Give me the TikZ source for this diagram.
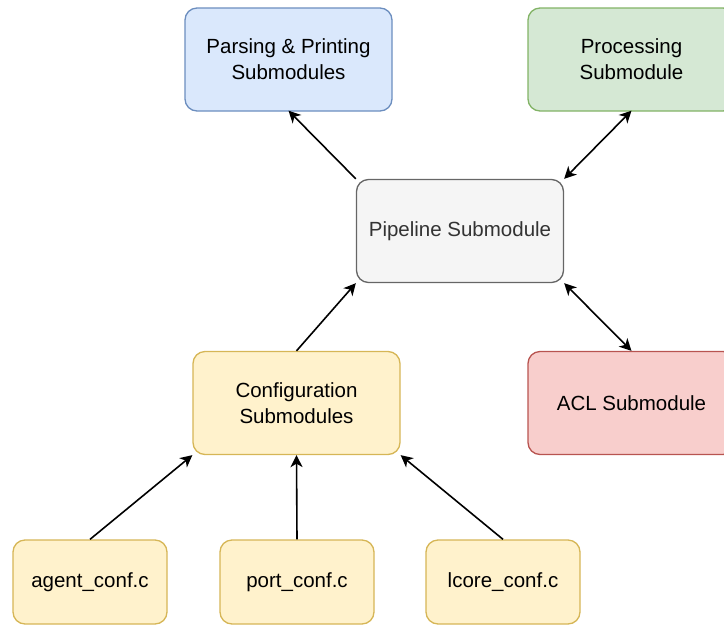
\documentclass[tikz,border=0pt]{standalone}
\usepackage{fontspec}
\setmainfont{Liberation Sans}
\usetikzlibrary{arrows.meta}

\definecolor{blueFill}{HTML}{DAE8FC}\definecolor{blueLine}{HTML}{6C8EBF}
\definecolor{greenFill}{HTML}{D5E8D4}\definecolor{greenLine}{HTML}{82B366}
\definecolor{grayFill}{HTML}{F5F5F5}\definecolor{grayLine}{HTML}{666666}
\definecolor{grayText}{HTML}{333333}
\definecolor{redFill}{HTML}{F8CECC}\definecolor{redLine}{HTML}{B85450}
\definecolor{yellowFill}{HTML}{FFF2CC}\definecolor{yellowLine}{HTML}{D6B656}

\tikzset{
  box/.style={draw, rounded corners=12pt, line width=1.3pt,
    minimum width=207pt, minimum height=103pt, align=center,
    font=\fontsize{20.5}{26}\selectfont, inner sep=0pt},
  filebox/.style={box, minimum width=154pt, minimum height=84pt},
  bluebox/.style={fill=blueFill, draw=blueLine},
  greenbox/.style={fill=greenFill, draw=greenLine},
  graybox/.style={fill=grayFill, draw=grayLine, text=grayText},
  redbox/.style={fill=redFill, draw=redLine},
  yellowbox/.style={fill=yellowFill, draw=yellowLine},
  tip/.tip={Stealth[length=12pt,width=12pt,inset=3.5pt]},
  link/.style={line width=1.6pt, -tip},
  dlink/.style={line width=1.6pt, tip-tip},
}

\begin{document}
\begin{tikzpicture}[x=1pt,y=-1pt]
  \useasboundingbox (0,0) rectangle (724,625);

  % module boxes
  \node[box,bluebox]   (parse) at (288.5,59.5) {Parsing \& Printing\\Submodules};
  \node[box,greenbox]  (proc)  at (631.5,59.5) {Processing\\Submodule};
  \node[box,graybox]   (pipe)  at (460,231)    {Pipeline Submodule};
  \node[box,redbox]    (acl)   at (631.5,403)  {ACL Submodule};
  \node[box,yellowbox] (conf)  at (296.5,403)  {Configuration\\Submodules};

  % source files
  \node[filebox,yellowbox] (agent) at (90,582)  {agent\_conf.c};
  \node[filebox,yellowbox] (port)  at (297,582) {port\_conf.c};
  \node[filebox,yellowbox] (lcore) at (503,582) {lcore\_conf.c};

  % connectors
  \draw[link]  (pipe.north west) -- ([yshift=1pt]parse.south);
  \draw[dlink] (pipe.north east) -- ([yshift=1pt]proc.south);
  \draw[dlink] (pipe.south east) -- (acl.north);
  \draw[link]  (conf.north) -- (pipe.south west);
  \draw[link]  (agent.north) -- (conf.south west);
  \draw[link]  (port.north) -- (conf.south);
  \draw[link]  (lcore.north) -- (conf.south east);
\end{tikzpicture}
\end{document}
